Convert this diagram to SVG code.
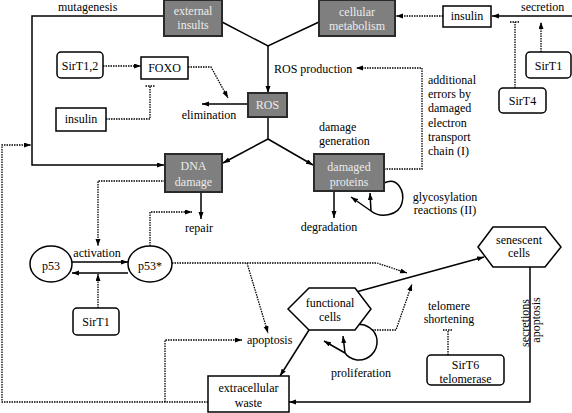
<svg xmlns="http://www.w3.org/2000/svg" width="572" height="413" viewBox="0 0 572 413" font-family="'Liberation Serif', 'DejaVu Serif', serif" font-size="12">
<defs>
<marker id="ah" markerUnits="userSpaceOnUse" markerWidth="8" markerHeight="6" refX="7" refY="2.5" orient="auto">
<path d="M0,0 L7,2.5 L0,5 z" fill="#000"/>
</marker>
</defs>
<style>
text{font-family:'Liberation Serif','DejaVu Serif',serif;font-size:12px;fill:#000}
.g rect{fill:#7f7f7f;stroke:#2a2a2a;stroke-width:2}
.g text{fill:#ececec;text-anchor:middle}
.w rect,.w ellipse,.w polygon{fill:#fff;stroke:#000;stroke-width:1.5}
.w text{text-anchor:middle}
.s{fill:none;stroke:#000;stroke-width:1.5}
.d{fill:none;stroke:#000;stroke-width:1.3;stroke-dasharray:1.5 1}
.a{marker-end:url(#ah)}
.m{text-anchor:middle}
</style>

<g id="connectors">
<path class="s a" d="M164,16 H32 V165 H164"/>
<path class="s" d="M222,22 L268,46 L319,22"/>
<path class="s a" d="M268,46 V93"/>
<path class="s a" d="M248,104 H202"/>
<path class="s" d="M268,117 V139"/>
<path class="s a" d="M268,139 L223,163"/>
<path class="s a" d="M268,139 L313,165"/>
<path class="s a" d="M201,192 V219"/>
<path class="s a" d="M334,191 V218"/>
<path class="s" d="M384,183 C398,176 405,192 402,203 C399,215 381,219 371,211"/>
<path class="s a" d="M371,211 L370,193"/>
<path class="s a" d="M371,211 L351,197"/>
<path class="s a" d="M572,16 H492"/>
<path class="s a" d="M72,262 H128"/>
<path class="s a" d="M128,273 H72"/>
<path class="s a" d="M356,292 L484,257"/>
<path class="s a" d="M309,330 L280,376"/>
<path class="s a" d="M530,267 V402 H289"/>
<path class="s" d="M353,325 C366,322 376,330 377,340 C378,352 368,361 357,360 C351,359 347,356 345,353"/>
<path class="s a" d="M345,353 L343,336"/>
<path class="s a" d="M345,353 L324,341"/>
<path class="d a" d="M443,16 H396"/>
<path class="d a" d="M541,52 V22"/>
<path class="d" d="M515,88 V22 M510,22 H520"/>
<path class="d a" d="M103,66 H141"/>
<path class="d a" d="M188,67 H211 L228,98"/>
<path class="d" d="M106,119 H150 V86 M145.5,86 H154.5"/>
<path class="d a" d="M384,169 H422 V68 H356"/>
<path class="d a" d="M165,181 H98 V246"/>
<path class="d a" d="M150,246 V212 H192"/>
<path class="d a" d="M98,308 V274"/>
<path class="d a" d="M172,263 H377 L407,273"/>
<path class="d a" d="M247,263 L268,333"/>
<path class="d a" d="M208,402 H2 V145 H31"/>
<path class="d a" d="M165,402 V340 H242"/>
<path class="d a" d="M372,330 H396 L412,284"/>
<path class="d" d="M448,355 V330 M443,330 H453"/>
</g>

<g id="external-insults" class="g"><rect x="164" y="0" width="58" height="36"/><text x="193" y="15">external</text><text x="193" y="29">insults</text></g>
<g id="cellular-metabolism" class="g"><rect x="319" y="0" width="76" height="36"/><text x="357" y="16">cellular</text><text x="357" y="30">metabolism</text></g>
<g id="ros" class="g"><rect x="248" y="93" width="39" height="24"/><text x="267.5" y="109">ROS</text></g>
<g id="dna-damage" class="g"><rect x="165" y="154" width="57" height="38"/><text x="193.5" y="170">DNA</text><text x="193.5" y="186">damage</text></g>
<g id="damaged-proteins" class="g"><rect x="314" y="154" width="70" height="37"/><text x="349" y="171">damaged</text><text x="349" y="186">proteins</text></g>

<g id="insulin-top" class="w"><rect x="443" y="6" width="48" height="21"/><text x="467" y="20">insulin</text></g>
<g id="sirt1-top" class="w"><rect x="526" y="52" width="45" height="26" rx="4"/><text x="548.5" y="70">SirT1</text></g>
<g id="sirt4" class="w"><rect x="499" y="88" width="47" height="25" rx="4"/><text x="522.5" y="105">SirT4</text></g>
<g id="sirt12" class="w"><rect x="57" y="52" width="46" height="26" rx="4"/><text x="80" y="70">SirT1,2</text></g>
<g id="foxo" class="w"><rect x="141" y="57" width="47" height="22"/><text x="164.5" y="72">FOXO</text></g>
<g id="insulin-left" class="w"><rect x="56" y="108" width="50" height="23"/><text x="81" y="123">insulin</text></g>
<g id="p53" class="w"><ellipse cx="51" cy="264" rx="21" ry="18"/><text x="51" y="270">p53</text></g>
<g id="p53-active" class="w"><ellipse cx="150" cy="264" rx="22" ry="18"/><text x="150" y="270">p53*</text></g>
<g id="sirt1-low" class="w"><rect x="73" y="308" width="46" height="27" rx="4"/><text x="96" y="326">SirT1</text></g>
<g id="functional-cells" class="w"><polygon points="288,309 309,288 355,288 371,309 355,330 309,330"/><text x="330" y="307">functional</text><text x="330" y="321">cells</text></g>
<g id="senescent-cells" class="w"><polygon points="478,247 493,227 545,227 561,247 545,267 493,267"/><text x="519" y="244">senescent</text><text x="519" y="257">cells</text></g>
<g id="extracellular-waste" class="w"><rect x="208" y="376" width="81" height="36"/><text x="248.5" y="392">extracellular</text><text x="248.5" y="407">waste</text></g>
<g id="sirt6-telomerase" class="w"><rect x="427" y="355" width="77" height="30" rx="4"/><text x="465.5" y="369">SirT6</text><text x="465.5" y="383">telomerase</text></g>

<g id="labels">
<text x="58" y="11">mutagenesis</text>
<text x="274" y="73">ROS production</text>
<text x="209" y="119" class="m">elimination</text>
<text x="521" y="11">secretion</text>
<text x="428" y="84">additional</text>
<text x="428" y="98">errors by</text>
<text x="428" y="112">damaged</text>
<text x="428" y="127">electron</text>
<text x="428" y="141">transport</text>
<text x="428" y="155">chain (I)</text>
<text x="319" y="131">damage</text>
<text x="319" y="145">generation</text>
<text x="199" y="232" class="m">repair</text>
<text x="329" y="231" class="m">degradation</text>
<text x="445" y="201" class="m">glycosylation</text>
<text x="445" y="214" class="m">reactions (II)</text>
<text x="97" y="257" class="m">activation</text>
<text x="247" y="344">apoptosis</text>
<text x="449" y="310" class="m">telomere</text>
<text x="449" y="323" class="m">shortening</text>
<text x="361" y="377" class="m">proliferation</text>
<text class="m" transform="translate(529,323) rotate(-90)">secretions</text>
<text class="m" transform="translate(540,320) rotate(-90)">apoptosis</text>
</g>
</svg>
